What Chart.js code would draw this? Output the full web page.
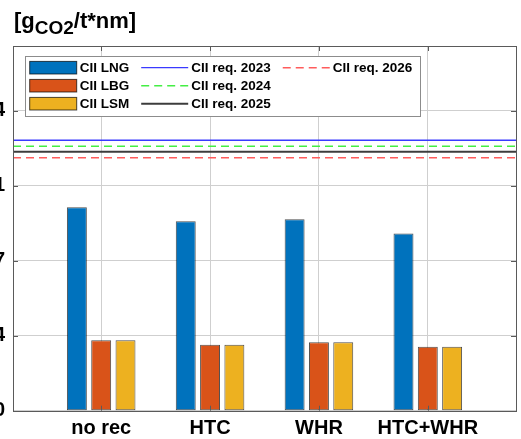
<!DOCTYPE html>
<html><head><meta charset="utf-8">
<script src="https://cdn.jsdelivr.net/npm/chart.js@4/dist/chart.umd.min.js"></script>
<style>
html,body{margin:0;padding:0;background:#fff;overflow:hidden;width:521px;height:439px;}
#wrap{position:absolute;left:-40px;top:0;width:561px;height:439px;}
#title{position:absolute;left:14px;top:9px;font:bold 22px 'Liberation Sans',Arial,sans-serif;color:#000;white-space:nowrap;line-height:24px;}
#title sub{font-size:19px;vertical-align:-6px;line-height:0;}
</style></head><body>
<div id="wrap"><canvas id="c" width="561" height="439"></canvas></div>
<div id="title">[g<sub>CO2</sub>/t*nm]</div>
<script>
// ---- data ----
const categories = ["no rec", "HTC", "WHR", "HTC+WHR"];
const ciiLNG = [9.09, 8.46, 8.55, 7.91];
const ciiLBG = [3.15, 2.95, 3.06, 2.86];
const ciiLSM = [3.15, 2.95, 3.06, 2.86];
const reqLabels = ["CII req. 2023", "CII req. 2024", "CII req. 2025", "CII req. 2026"];
const reqValues = [12.08, 11.81, 11.57, 11.30];
const yTicks = [0, 3.35, 6.7, 10.05, 13.4];
const yTickLabels = ["0", "3.4", "6.7", "10.1", "13.4"];
const yMax = 16.29;
const xMin = 0.19, xMax = 4.81;

const FONT = "'Liberation Sans', Arial, sans-serif";
const reqStyles = [
  {color: '#3a3aff', dash: [], width: 1.3},
  {color: '#44ee44', dash: [8, 5], width: 1.5},
  {color: '#3c3c3c', dash: [], width: 2},
  {color: '#ff5c5c', dash: [8, 5], width: 1.5}
];

function barSet(label, vals, color) {
  return {
    type: 'bar', label: label,
    data: categories.map((c, i) => ({x: i + 1, y: vals[i]})),
    backgroundColor: color, borderColor: 'rgba(0,0,0,0.7)', borderWidth: 1,
    borderSkipped: false, categoryPercentage: 0.67, barPercentage: 0.82
  };
}
const datasets = [
  barSet('CII LNG', ciiLNG, '#0072BD'),
  barSet('CII LBG', ciiLBG, '#D95319'),
  barSet('CII LSM', ciiLSM, '#EDB120')
];
reqLabels.forEach((lab, i) => {
  datasets.push({
    type: 'line', label: lab,
    data: [{x: xMin, y: reqValues[i]}, {x: xMax, y: reqValues[i]}],
    borderColor: reqStyles[i].color, borderDash: reqStyles[i].dash,
    borderWidth: reqStyles[i].width, pointRadius: 0, fill: false
  });
});

const framePlugin = {
  id: 'frame',
  afterDatasetsDraw(chart) {
    const ctx = chart.ctx, a = chart.chartArea;
    ctx.save();
    ctx.strokeStyle = '#5a5a5a'; ctx.lineWidth = 1;
    ctx.strokeRect(Math.round(a.left) + 0.5, Math.round(a.top) + 0.5, Math.round(a.right - a.left), Math.round(a.bottom - a.top));
    const ys = chart.scales.y, xs = chart.scales.x;
    ctx.beginPath();
    ys.ticks.forEach(t => {
      const py = Math.round(ys.getPixelForValue(t.value)) + 0.5;
      ctx.moveTo(a.left, py); ctx.lineTo(a.left + 5, py);
      ctx.moveTo(a.right, py); ctx.lineTo(a.right - 5, py);
    });
    xs.ticks.forEach(t => {
      const px = Math.round(xs.getPixelForValue(t.value)) + 0.5;
      ctx.moveTo(px, a.bottom); ctx.lineTo(px, a.bottom - 5);
      ctx.moveTo(px, a.top); ctx.lineTo(px, a.top + 5);
    });
    ctx.stroke();
    ctx.restore();
  }
};

const legendPlugin = {
  id: 'boxLegend',
  afterDraw(chart) {
    const ctx = chart.ctx, a = chart.chartArea;
    const ds = chart.data.datasets;
    const rows = 3, sampleW = 47, gap = 3, pad = 12, rowH = 18;
    ctx.save();
    ctx.font = 'bold 13.5px ' + FONT;
    const cols = Math.ceil(ds.length / rows);
    const colW = [];
    for (let c = 0; c < cols; c++) {
      let m = 0;
      for (let r = 0; r < rows; r++) {
        const d = ds[c * rows + r];
        if (d) m = Math.max(m, ctx.measureText(d.label).width);
      }
      colW.push(sampleW + gap + m + pad);
    }
    const bx = Math.round(a.left + 12), by = Math.round(a.top + 10);
    const bw = Math.round(4.7 + colW.reduce((s, w) => s + w, 0) - pad + 8);
    const bh = 60;
    ctx.fillStyle = '#fff';
    ctx.fillRect(bx, by, bw, bh);
    ctx.strokeStyle = '#8c8c8c'; ctx.lineWidth = 1;
    ctx.strokeRect(bx + 0.5, by + 0.5, bw, bh);
    let x = bx + 4.7;
    for (let c = 0; c < cols; c++) {
      for (let r = 0; r < rows; r++) {
        const d = ds[c * rows + r];
        if (!d) continue;
        const cy = by + 11.7 + r * rowH;
        if (d.type === 'bar') {
          ctx.fillStyle = d.backgroundColor;
          ctx.fillRect(x, cy - 6.3, sampleW, 12.6);
          ctx.strokeStyle = d.borderColor; ctx.lineWidth = 1; ctx.setLineDash([]);
          ctx.strokeRect(x, cy - 6.3, sampleW, 12.6);
        } else {
          ctx.strokeStyle = d.borderColor; ctx.lineWidth = d.borderWidth;
          ctx.setLineDash(d.borderDash || []);
          ctx.beginPath(); ctx.moveTo(x, cy); ctx.lineTo(x + sampleW, cy); ctx.stroke();
          ctx.setLineDash([]);
        }
        ctx.fillStyle = '#000';
        ctx.textBaseline = 'middle'; ctx.textAlign = 'left';
        ctx.fillText(d.label, x + sampleW + gap, cy + 1);
      }
      x += colW[c];
    }
    ctx.restore();
  }
};

new Chart(document.getElementById('c'), {
  type: 'bar',
  data: {datasets: datasets},
  options: {
    responsive: false, animation: false, devicePixelRatio: 1,
    layout: {padding: {left: 0, right: 5, top: 46, bottom: 0}},
    plugins: {legend: {display: false}, tooltip: {enabled: false}, title: {display: false}},
    scales: {
      x: {
        type: 'linear', min: xMin, max: xMax, offset: false,
        grid: {color: '#cfcfcf', drawTicks: false, offset: false},
        border: {display: false},
        afterBuildTicks: s => { s.ticks = categories.map((c, i) => ({value: i + 1})); },
        afterFit: s => { s.height = 28.3; },
        ticks: {
          callback: v => categories[v - 1],
          font: {family: FONT, size: 20, weight: 'bold'}, color: '#000',
          padding: 6, maxRotation: 0, autoSkip: false
        }
      },
      y: {
        type: 'linear', min: 0, max: yMax,
        grid: {color: '#cfcfcf', drawTicks: false},
        border: {display: false},
        afterBuildTicks: s => { s.ticks = yTicks.map(v => ({value: v})); },
        afterFit: s => { s.width = 53; },
        ticks: {
          callback: (v, i) => yTickLabels[i],
          font: {family: FONT, size: 20, weight: 'bold'}, color: '#000', padding: 8
        }
      }
    }
  },
  plugins: [framePlugin, legendPlugin]
});
</script>
</body></html>
